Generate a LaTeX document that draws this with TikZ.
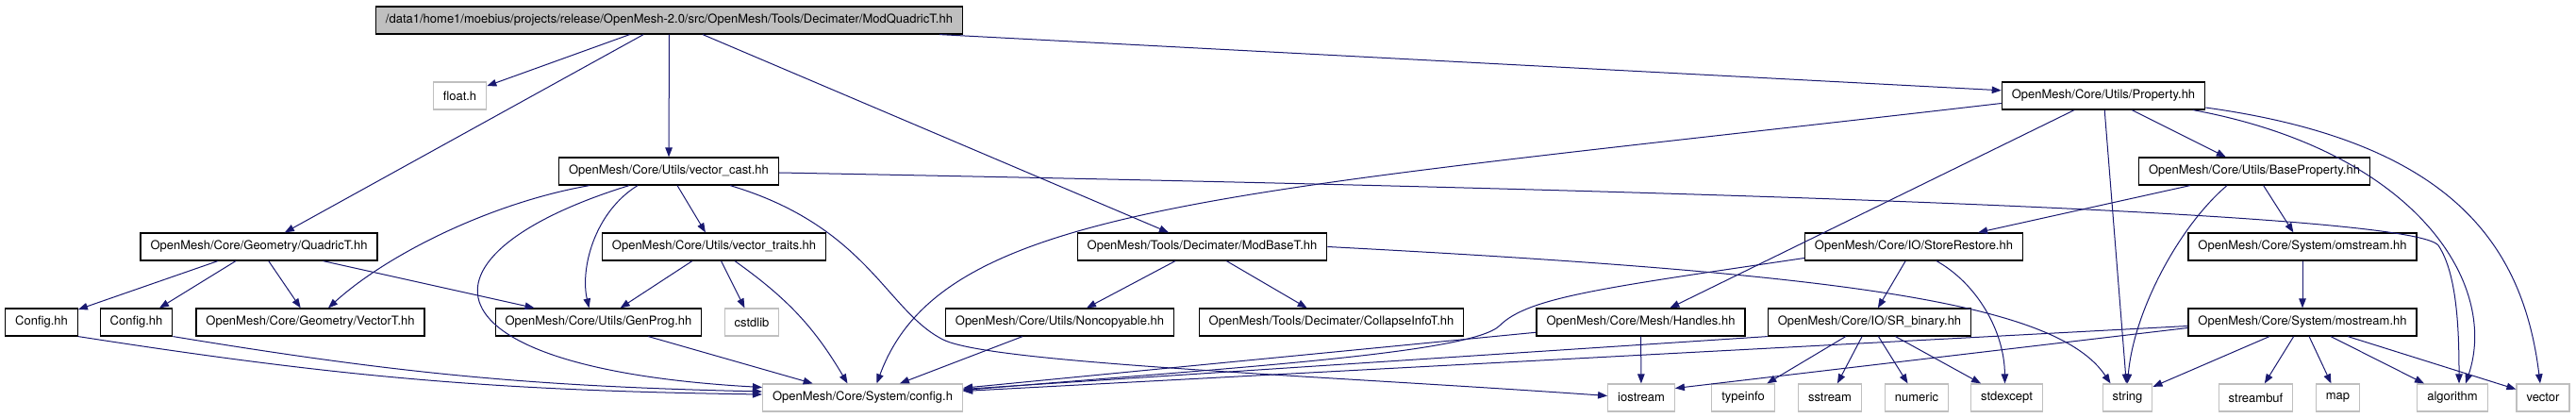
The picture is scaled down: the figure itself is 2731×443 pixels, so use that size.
\documentclass[tikz,border=0pt]{standalone}
\usepackage{fontspec}
\setmainfont{TeX Gyre Heros}
\usetikzlibrary{arrows.meta, calc}

\definecolor{edgeblue}{HTML}{191970}
\definecolor{boxgray}{HTML}{BFBFBF}

\begin{document}
\begin{tikzpicture}[x=1pt, y=-1pt,
    file/.style={draw=black, line width=1.2pt, inner xsep=10.5pt, inner ysep=0pt,
      minimum height=29pt, font=\fontsize{13}{15}\selectfont},
    sysfile/.style={file, draw=boxgray},
    dep/.style={edgeblue, line width=1pt, -{Triangle[length=10pt, width=7.5pt]}}]
  \useasboundingbox (0,0) rectangle (2731,443);

  % Files of the graph, row by row
  \node[file, fill=boxgray] (modquadric) at (709.5,21.5)
    {/data1/home1/moebius/projects/release/OpenMesh-2.0/src/OpenMesh/Tools/Decimater/ModQuadricT.hh};

  \node[sysfile] (floath) at (487.5,101.5) {float.h};
  \node[file] (property) at (2230,101.5) {OpenMesh/Core/Utils/Property.hh};

  \node[file] (vcast) at (709,181.5) {OpenMesh/Core/Utils/vector\_cast.hh};
  \node[file] (baseprop) at (2390,181.5) {OpenMesh/Core/Utils/BaseProperty.hh};

  \node[file] (quadric) at (274.5,261.5) {OpenMesh/Core/Geometry/QuadricT.hh};
  \node[file] (vtraits) at (757,261.5) {OpenMesh/Core/Utils/vector\_traits.hh};
  \node[file] (modbase) at (1274.5,261.5) {OpenMesh/Tools/Decimater/ModBaseT.hh};
  \node[file] (storerest) at (2029,261.5) {OpenMesh/Core/IO/StoreRestore.hh};
  \node[file] (omstream) at (2441,261.5) {OpenMesh/Core/System/omstream.hh};

  \node[file] (cfgA) at (44,341.5) {Config.hh};
  \node[file] (cfgB) at (144.5,341.5) {Config.hh};
  \node[file] (vectort) at (329,341.5) {OpenMesh/Core/Geometry/VectorT.hh};
  \node[file] (genprog) at (634.5,341.5) {OpenMesh/Core/Utils/GenProg.hh};
  \node[sysfile] (cstdlib) at (797,341.5) {cstdlib};
  \node[file] (noncopy) at (1123.5,341.5) {OpenMesh/Core/Utils/Noncopyable.hh};
  \node[file] (collapse) at (1411.5,341.5) {OpenMesh/Tools/Decimater/CollapseInfoT.hh};
  \node[file] (handles) at (1739.5,341.5) {OpenMesh/Core/Mesh/Handles.hh};
  \node[file] (srbin) at (1982,341.5) {OpenMesh/Core/IO/SR\_binary.hh};
  \node[file] (mostream) at (2441,341.5) {OpenMesh/Core/System/mostream.hh};

  \node[sysfile] (configh) at (914.5,421.5) {OpenMesh/Core/System/config.h};
  \foreach \nm/\x in {iostream/1740,typeinfo/1848,sstream/1940,numeric/2032,stdexcept/2127.5,string/2255.5,streambuf/2391.5,map/2478.5,algorithm/2600,vector/2696}
    \node[sysfile] (\nm) at (\x,421.5) {\nm};

  % Straight includes
  \foreach \t in {floath,quadric,vcast,modbase,property}
    \draw[dep] (modquadric) -- (\t);
  \foreach \t in {handles,string,baseprop}
    \draw[dep] (property) -- (\t);
  \foreach \t in {storerest,omstream}
    \draw[dep] (baseprop) -- (\t);
  \foreach \t in {cfgA,cfgB,vectort,genprog}
    \draw[dep] (quadric) -- (\t);
  \foreach \t in {genprog,cstdlib}
    \draw[dep] (vtraits) -- (\t);
  \foreach \t in {noncopy,collapse}
    \draw[dep] (modbase) -- (\t);
  \foreach \t in {typeinfo,sstream,numeric,stdexcept}
    \draw[dep] (srbin) -- (\t);
  \foreach \t in {string,streambuf,map,algorithm,vector}
    \draw[dep] (mostream) -- (\t);
  \draw[dep] (vcast) -- (vtraits);
  \draw[dep] (storerest) -- (srbin);
  \draw[dep] (omstream) -- (mostream);
  \draw[dep] (handles) -- (iostream);
  \draw[dep] (handles) -- (configh);
  \draw[dep] (genprog) -- (configh);
  \draw[dep] (noncopy) -- (configh);
  \draw[dep] (srbin.south west) -- ($(configh.east)+(0,-9)$);
  \draw[dep] ($(mostream.west)+(0,4)$) -- ($(configh.east)+(0,-7)$);
  \draw[dep] ($(mostream.west)+(0,6)$) -- ($(iostream.east)+(0,-10)$);

  % Curved includes
  \draw[dep] ($(property.west)+(0,8)$) .. controls (1300,205) and (1000,215) .. ($(configh.north)+(15,0)$);
  \draw[dep] ($(property.south)+(95,0)$) .. controls (2560,160) and (2650,300) .. ($(algorithm.north)+(14,0)$);
  \draw[dep] ($(property.east)+(0,12.5)$) .. controls (2600,150) and (2675,260) .. ($(vector.north)+(-3,0)$);
  \draw[dep] ($(baseprop.south)+(-29,0)$) .. controls (2310,240) and (2262,330) .. (string.north);
  \draw[dep] ($(storerest.south)+(24,0)$) .. controls (2095,300) and (2125,350) .. ($(stdexcept.north)+(-2,0)$);
  \draw[dep] ($(storerest.west)+(0,12)$) .. controls (1700,305) and (1620,315) .. (1590,345)
    .. controls (1560,375) and (1300,390) .. ($(configh.east)+(0,-8)$);
  \draw[dep] (modbase.east) .. controls (1950,290) and (2180,320) .. ($(string.north)+(-18,0)$);
  \draw[dep] ($(vcast.south)+(-84,0)$) .. controls (520,215) and (410,270) .. ($(vectort.north)+(19,0)$);
  \draw[dep] ($(vcast.south)+(-42,0)$) .. controls (430,270) and (440,390) .. ($(configh.west)+(0,-11)$);
  \draw[dep] ($(vcast.south)+(-33,0)$) .. controls (630,225) and (615,285) .. ($(genprog.north)+(-10,0)$);
  \draw[dep] ($(vcast.south)+(65,0)$) .. controls (920,240) and (940,330) .. (1000,360)
    .. controls (1050,385) and (1400,398) .. ($(iostream.west)+(0,-2)$);
  \draw[dep] ($(vcast.east)+(0,1.5)$) .. controls (2000,205) and (2560,230) .. (2585,260)
    .. controls (2605,290) and (2607,350) .. ($(algorithm.north)+(7,0)$);
  \draw[dep] ($(vtraits.south)+(22,0)$) to[bend left=12] ($(configh.north)+(-16,0)$);
  \draw[dep] (cfgA.south east) to[bend right=4] ($(configh.west)+(0,-3.5)$);
  \draw[dep] (cfgB.south east) to[bend right=4] ($(configh.west)+(0,-6.5)$);
\end{tikzpicture}
\end{document}
